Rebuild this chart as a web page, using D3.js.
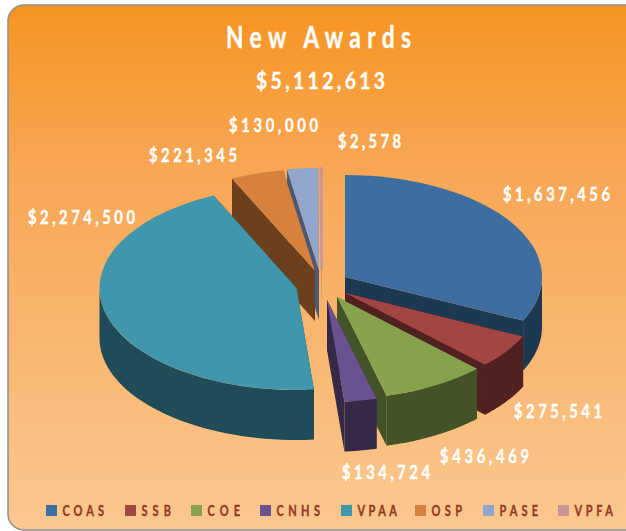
<!DOCTYPE html>
<html><head><meta charset="utf-8">
<script src="https://cdn.jsdelivr.net/npm/d3@7"></script>
<style>html,body{margin:0;padding:0;background:#fff;overflow:hidden}svg{display:block}
text{font-family:Lato,"Open Sans",sans-serif;font-weight:700}</style>
</head><body><svg id="c" width="626" height="531"></svg>
<script>
const categories=["COAS","SSB","COE","CNHS","VPAA","OSP","PASE","VPFA"];
const awards=[1637456,275541,436469,134724,2274500,221345,130000,2578];
const totalLabel="$5,112,613";
const titleText="New Awards";
const topColors=["#3E6D9F","#A34542","#87A24D","#6A5290","#4096AD","#D6813D","#92A6CD","#CC9496"];
const wallColors=["#1D3851","#512020","#445327","#362947","#204B58","#6C401C","#4A5A76","#7A5050"];
// layout only
const apexX=[345,345,337,327,296.5,315,319,321.5];
const apexY=[277,293,297,300,288,271,270,270];
const labelX=[503,514,440,342,28,149,229,338];
const labelY=[194,411,456,472,217,155,125,141];
const labelW=[107,88,89,88,107,88,89,63];
const legendX=[46,125,191,260,341,415,483,558];
const legendW=[41.5,29.5,32.5,43.5,39.5,30.5,38.5,38.5];
const paintOrder=[7,6,5,0,1,4,2,3];
const rx=197, ry=102, depth=50;
const fmt=d3.format("$,");

const svg=d3.select("#c");
const defs=svg.append("defs");
const grad=defs.append("linearGradient").attr("id","bg").attr("x1",0).attr("y1",0).attr("x2",0).attr("y2",1);
grad.append("stop").attr("offset",0).attr("stop-color","#F79420");
grad.append("stop").attr("offset",0.3).attr("stop-color","#F8A653");
grad.append("stop").attr("offset",1).attr("stop-color","#FBC890");
svg.append("rect").attr("x",8).attr("y",5).attr("width",640).attr("height",525).attr("rx",16)
   .attr("fill","url(#bg)").attr("stroke","#8f8f8f").attr("stroke-width",1.5);

const arcs=d3.pie().sort(null).startAngle(0).endAngle(2*Math.PI)(awards);
const arcGen=d3.arc().innerRadius(0).outerRadius(rx);
const lineGen=d3.line();
const px=(i,a)=>apexX[i]+rx*Math.sin(a);
const py=(i,a)=>apexY[i]-ry*Math.cos(a);

const pieG=svg.append("g");
paintOrder.forEach(i=>{
  const d=arcs[i], g=pieG.append("g");
  const wall=pts=>g.append("path").attr("d",lineGen(pts)+"Z").attr("fill",wallColors[i]);
  [d.startAngle,d.endAngle].forEach(a=>{
    wall([[apexX[i],apexY[i]],[px(i,a),py(i,a)],[px(i,a),py(i,a)+depth],[apexX[i],apexY[i]+depth]]);
  });
  const a0=Math.max(d.startAngle,Math.PI/2), a1=Math.min(d.endAngle,3*Math.PI/2);
  if(a1>a0){
    const as=d3.range(0,41).map(k=>a0+(a1-a0)*k/40);
    wall(as.map(a=>[px(i,a),py(i,a)]).concat(as.slice().reverse().map(a=>[px(i,a),py(i,a)+depth])));
  }
  g.append("path")
    .attr("transform",`translate(${apexX[i]},${apexY[i]}) scale(1,${ry/rx})`)
    .attr("d",arcGen(d)).attr("fill",topColors[i])
    .attr("stroke",i===7?topColors[i]:"none").attr("stroke-width",i===7?2.5:0);
});

// narrow the glyphs horizontally and keep the reference's wide tracking
function spaced(x,y,size,width,squeeze,fill,str){
  svg.append("text").attr("transform",`translate(${x},${y}) scale(${squeeze},1)`)
     .attr("fill",fill).attr("stroke",fill).attr("stroke-width",0.35)
     .attr("font-size",size).attr("textLength",width/squeeze).text(str);
}
spaced(226,48,30,185,0.76,"#fff",titleText);
spaced(256,89,23,129,0.84,"#fff",totalLabel);
awards.forEach((v,i)=>spaced(labelX[i],labelY[i]+6.5,18,labelW[i],0.82,"#fff",fmt(v)));
categories.forEach((c,i)=>{
  svg.append("rect").attr("x",legendX[i]).attr("y",505).attr("width",11).attr("height",11).attr("fill",topColors[i]);
  spaced(legendX[i]+16.5,516,14.5,legendW[i],0.76,"#953A22",c);
});
</script></body></html>
